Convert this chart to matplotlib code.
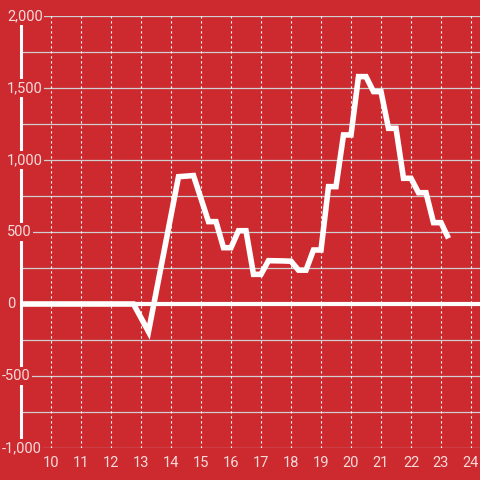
import matplotlib
matplotlib.use("Agg")
import matplotlib.pyplot as plt
import numpy as np

# series values (hours, value)
hours = [9.0, 12.75, 13.25, 14.25, 14.5, 14.75, 15.25, 15.5, 15.75, 16.0,
         16.25, 16.5, 16.75, 17.0, 17.25, 17.5, 17.75, 18.0, 18.25, 18.5,
         18.75, 19.0, 19.25, 19.5, 19.75, 20.0, 20.25, 20.5, 20.75, 21.0,
         21.25, 21.5, 21.75, 22.0, 22.25, 22.5, 22.75, 23.0, 23.25]
values = [0, 0, -192, 884, 888, 892, 572, 572, 391, 391,
          509, 509, 206, 206, 301, 300, 299, 297, 235, 235,
          375, 375, 815, 815, 1174, 1174, 1579, 1579, 1475, 1475,
          1220, 1220, 873, 873, 773, 773, 565, 565, 456]

x_ticks = list(range(10, 25))
y_major = [-1000, -500, 0, 500, 1000, 1500, 2000]
y_labels = ["-1,000", "-500", "0", "500", "1,000", "1,500", "2,000"]
y_minor = [-750, -250, 250, 750, 1250, 1750]

bg = "#cc2a2f"
grid_col = "#cfcfcf"
txt_col = "#f6dada"

plt.rcParams['font.family'] = ['Roboto', 'DejaVu Sans']

fig = plt.figure(figsize=(4.8, 4.8), dpi=100, facecolor=bg)
ax = fig.add_axes([21/480, 32/480, 459/480, 432/480])
ax.set_facecolor(bg)
ax.set_xlim(9.0, 24.3)
ax.set_ylim(-1000, 2000)

for v in y_major + y_minor:
    ax.axhline(v, color=grid_col, lw=0.9, zorder=1)
for t in x_ticks:
    ax.axvline(t, color="white", lw=0.8, ls=(0, (2, 2.5)), zorder=1)

ax.axhline(0, color="white", lw=3, zorder=2)
ax.plot(hours, values, color="white", lw=4, zorder=3,
        solid_joinstyle="miter", solid_capstyle="butt")

for s in ["top", "right", "bottom"]:
    ax.spines[s].set_visible(False)
ax.spines["left"].set_color("white")
ax.spines["left"].set_linewidth(2.2)
ax.spines["left"].set_zorder(4)

ax.set_yticks([])
ax.set_xticks(x_ticks)
ax.set_xticklabels([str(t) for t in x_ticks], color=txt_col, fontsize=10.5)
ax.tick_params(axis="x", length=0, pad=6)

ytr = ax.get_yaxis_transform()
for v, lab in zip(y_major, y_labels):
    xpos = -0.0414 if lab.startswith("-") else -0.0305
    ax.text(xpos, v, lab, transform=ytr, ha="left", va="center",
            color=txt_col, fontsize=10.5, zorder=10, clip_on=False,
            bbox=dict(facecolor=bg, edgecolor="none", pad=1.2))

fig.savefig("out.png", dpi=100, facecolor=bg)
